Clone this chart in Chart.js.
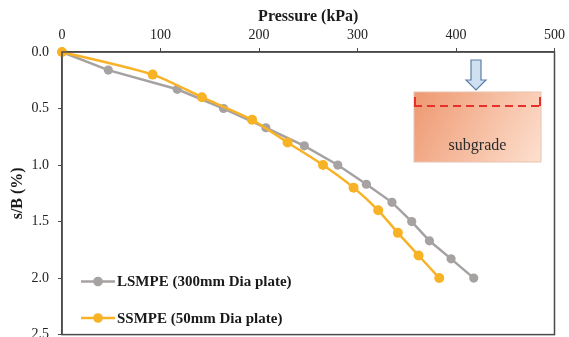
<!DOCTYPE html>
<html>
<head>
    <title>Pressure vs s/B</title>
    <script src="https://cdn.jsdelivr.net/npm/chart.js"></script>
    <style>
        html, body { margin: 0; padding: 0; overflow: hidden; background: #fff; }
        #wrap { width: 569px; height: 337px; overflow: hidden; }
    </style>
</head>
<body>
    <div id="wrap">
        <canvas id="plateChart" width="569" height="352"></canvas>
    </div>

    <script>
        // data
        const lsmpePressure = [0, 47, 117, 164, 207, 246, 280, 309, 335, 355, 373, 395, 418];
        const lsmpeSettlement = [0, 0.16, 0.33, 0.50, 0.67, 0.83, 1.0, 1.17, 1.33, 1.50, 1.67, 1.83, 2.0];
        const ssmpePressure = [0, 92, 142, 193, 229, 265, 296, 321, 341, 362, 383];
        const ssmpeSettlement = [0, 0.2, 0.4, 0.6, 0.8, 1.0, 1.2, 1.4, 1.6, 1.8, 2.0];
        const seriesLabels = ['LSMPE (300mm Dia plate)', 'SSMPE (50mm Dia plate)'];
        const xTicks = [0, 100, 200, 300, 400, 500];
        const yTicks = [0, 0.5, 1.0, 1.5, 2.0, 2.5];

        const serif = '"Liberation Serif", "DejaVu Serif", serif';
        const grayCol = '#a7a2a2';
        const orangeCol = '#f8b226';
        const axisCol = '#4a4a4a';

        function toPoints(xs, ys) {
            return xs.map((x, i) => ({ x: x, y: ys[i] }));
        }

        // box around the plot + the "subgrade" sketch
        const framePlugin = {
            id: 'frame',
            afterDraw(chart) {
                const c = chart.ctx;
                const a = chart.chartArea;
                c.save();
                c.strokeStyle = axisCol;
                c.lineWidth = 1.5;
                c.strokeRect(a.left, a.top, a.right - a.left, a.bottom - a.top);

                // subgrade block
                const bx = a.left + 352, by = a.top + 40, bw = 127, bh = 70;
                const g = c.createLinearGradient(bx, by, bx + bw, by + bh);
                g.addColorStop(0, '#ee9870');
                g.addColorStop(1, '#fde0cf');
                c.fillStyle = g;
                c.fillRect(bx, by, bw, bh);
                c.strokeStyle = '#e8c3b0';
                c.lineWidth = 1;
                c.strokeRect(bx, by, bw, bh);

                // red dashed line
                c.strokeStyle = '#e8302a';
                c.lineWidth = 2;
                c.setLineDash([8, 5]);
                c.beginPath();
                c.moveTo(bx, by + 14);
                c.lineTo(bx + bw, by + 14);
                c.stroke();
                c.setLineDash([]);
                c.beginPath();
                c.moveTo(bx + 1, by + 5);
                c.lineTo(bx + 1, by + 14);
                c.moveTo(bx + bw - 1, by + 5);
                c.lineTo(bx + bw - 1, by + 14);
                c.stroke();

                // arrow
                const ax = bx + 62;
                c.fillStyle = '#cfe0f0';
                c.strokeStyle = '#5b7fa8';
                c.lineWidth = 1.2;
                c.beginPath();
                c.moveTo(ax - 5, a.top + 8);
                c.lineTo(ax + 5, a.top + 8);
                c.lineTo(ax + 5, a.top + 28);
                c.lineTo(ax + 10, a.top + 28);
                c.lineTo(ax, a.top + 38);
                c.lineTo(ax - 10, a.top + 28);
                c.lineTo(ax - 5, a.top + 28);
                c.closePath();
                c.fill();
                c.stroke();

                c.fillStyle = '#2a2a2a';
                c.font = '16px ' + serif;
                c.textAlign = 'center';
                c.textBaseline = 'middle';
                c.fillText('subgrade', bx + bw / 2, by + 54);

                // legend inside plot
                chart.data.datasets.forEach((ds, i) => {
                    const ly = 281.5 + i * 36.5;
                    c.strokeStyle = ds.borderColor;
                    c.lineWidth = 2.5;
                    c.beginPath();
                    c.moveTo(81, ly);
                    c.lineTo(115, ly);
                    c.stroke();
                    c.fillStyle = ds.backgroundColor;
                    c.beginPath();
                    c.arc(98, ly, 4.8, 0, Math.PI * 2);
                    c.fill();
                    c.fillStyle = '#1a1a1a';
                    c.font = 'bold 15px ' + serif;
                    c.textAlign = 'left';
                    c.fillText(ds.label, 117, ly + 1);
                });
                c.restore();
            }
        };

        const ctx = document.getElementById('plateChart').getContext('2d');
        const plateChart = new Chart(ctx, {
            type: 'scatter',
            data: {
                datasets: [{
                    label: seriesLabels[0],
                    data: toPoints(lsmpePressure, lsmpeSettlement),
                    showLine: true,
                    borderColor: grayCol,
                    backgroundColor: grayCol,
                    borderWidth: 2.5,
                    pointRadius: 4.6,
                    pointBorderWidth: 0,
                    tension: 0,
                    order: 2,
                    clip: false
                }, {
                    label: seriesLabels[1],
                    data: toPoints(ssmpePressure, ssmpeSettlement),
                    showLine: true,
                    borderColor: orangeCol,
                    backgroundColor: orangeCol,
                    borderWidth: 2.5,
                    pointRadius: 5,
                    pointBorderWidth: 0,
                    tension: 0.25,
                    order: 1,
                    clip: false
                }]
            },
            options: {
                responsive: false,
                animation: false,
                layout: { padding: { left: 0, right: 12, top: 0, bottom: 15 } },
                plugins: {
                    legend: { display: false },
                    tooltip: { enabled: false }
                },
                scales: {
                    x: {
                        type: 'linear',
                        position: 'top',
                        min: 0,
                        max: 500,
                        afterBuildTicks: (s) => { s.ticks = xTicks.map(v => ({ value: v })); },
                        afterFit: (s) => { s.height = 52; },
                        grid: { display: true, drawOnChartArea: false, drawTicks: true, tickLength: 4, color: axisCol },
                        border: { display: true, color: axisCol, width: 1.5 },
                        ticks: { padding: 4, color: '#222', font: { family: serif, size: 14 } },
                        title: {
                            display: true,
                            text: 'Pressure (kPa)',
                            color: '#1a1a1a',
                            font: { family: serif, size: 16, weight: 'bold' },
                            padding: { top: 7, bottom: 0 }
                        }
                    },
                    y: {
                        type: 'linear',
                        reverse: true,
                        min: 0,
                        max: 2.5,
                        afterBuildTicks: (s) => { s.ticks = yTicks.map(v => ({ value: v })); },
                        afterFit: (s) => { s.width = 62; },
                        grid: { display: true, drawOnChartArea: false, drawTicks: true, tickLength: 4, color: axisCol },
                        border: { display: true, color: axisCol, width: 1.5 },
                        ticks: {
                            padding: 9,
                            color: '#222',
                            font: { family: serif, size: 14 },
                            callback: (v) => Number(v).toFixed(1)
                        },
                        title: {
                            display: true,
                            text: 's/B (%)',
                            color: '#1a1a1a',
                            font: { family: serif, size: 16, weight: 'bold' },
                            padding: { top: 8, bottom: 0 }
                        }
                    }
                }
            },
            plugins: [framePlugin]
        });
    </script>
</body>
</html>
